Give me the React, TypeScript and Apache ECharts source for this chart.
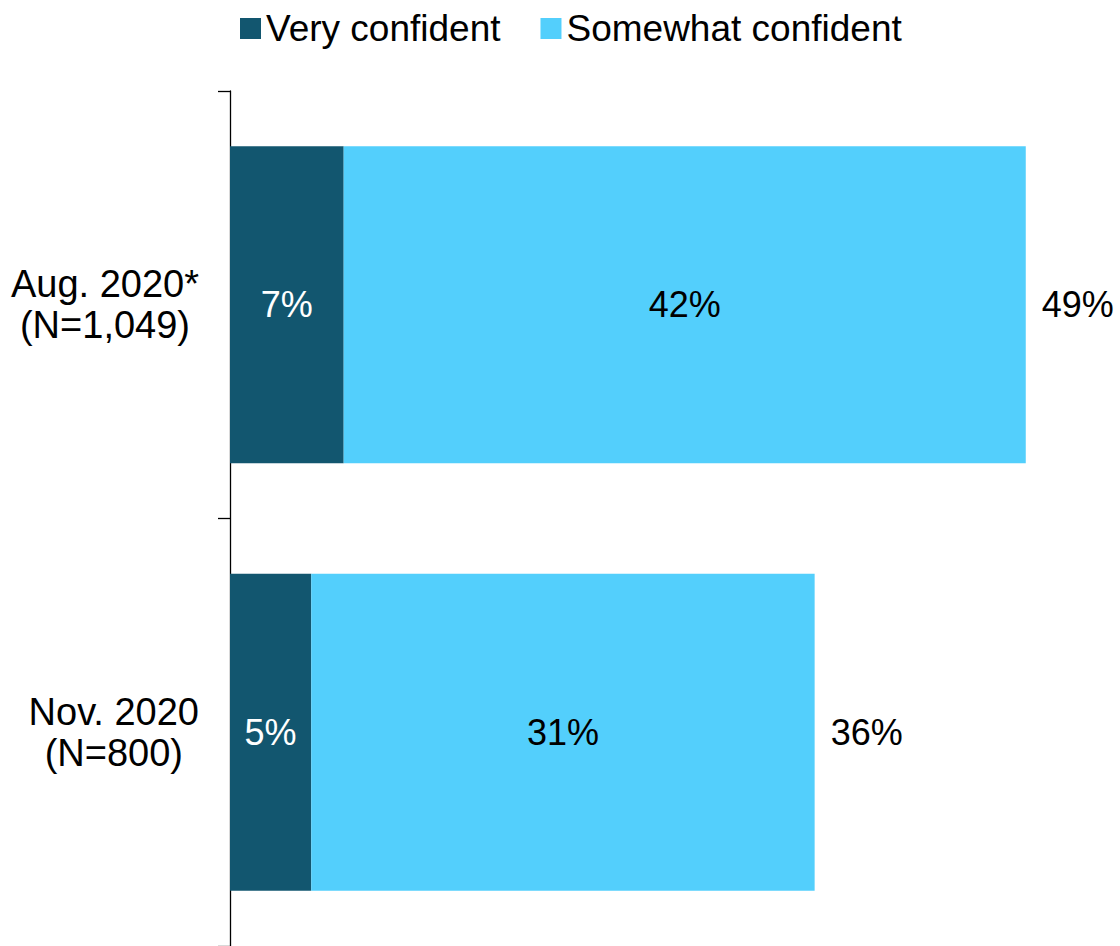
import React, { useEffect, useRef } from "react";
import * as echarts from "echarts";

const categories = ["Aug. 2020*\n(N=1,049)", "Nov. 2020\n(N=800)"];
const seriesNames = ["Very confident", "Somewhat confident"];
const veryConfident = [7, 5];
const somewhatConfident = [42, 31];
const totals = [49, 36];

const DARK = "#12566F";
const LIGHT = "#53CFFC";
const FONT = "'Liberation Sans', Arial, sans-serif";

export default function App() {
  const ref = useRef<HTMLDivElement>(null);

  useEffect(() => {
    if (!ref.current) return;
    const chart = echarts.init(ref.current, null, { renderer: "svg" });
    const labelBase = {
      show: true,
      fontSize: 36,
      fontFamily: FONT,
    };
    chart.setOption({
      animation: false,
      backgroundColor: "#ffffff",
      textStyle: { fontFamily: FONT },
      legend: {
        data: seriesNames,
        left: 235,
        top: 5,
        itemWidth: 21,
        itemHeight: 21,
        itemGap: 40,
        icon: "rect",
        textStyle: { fontSize: 37, color: "#000", fontFamily: FONT },
      },
      grid: { left: 230, top: 91, width: 812, height: 858, containLabel: false },
      xAxis: {
        type: "value",
        min: 0,
        max: 50,
        show: false,
        splitLine: { show: false },
      },
      yAxis: {
        type: "category",
        inverse: true,
        data: categories,
        axisLine: { show: true, lineStyle: { color: "#000", width: 1.3 } },
        axisTick: { show: true, length: 12, lineStyle: { color: "#000", width: 1.3 } },
        axisLabel: {
          align: "right",
          margin: 31,
          color: "#000",
          formatter: (v: string) =>
            v
              .split("\n")
              .map((s) => `{c|${s}}`)
              .join("\n"),
          rich: {
            c: {
              align: "center",
              fontSize: 38,
              lineHeight: 41,
              color: "#000",
              fontFamily: FONT,
            },
          },
        },
      },
      series: [
        {
          name: seriesNames[0],
          type: "bar",
          stack: "total",
          barWidth: 317,
          data: veryConfident,
          itemStyle: { color: DARK },
          label: {
            ...labelBase,
            position: "inside",
            color: "#ffffff",
            formatter: (p: any) => `${p.value}%`,
          },
        },
        {
          name: seriesNames[1],
          type: "bar",
          stack: "total",
          barWidth: 317,
          data: somewhatConfident,
          itemStyle: { color: LIGHT },
          label: {
            ...labelBase,
            position: "inside",
            color: "#000",
            formatter: (p: any) => `${p.value}%`,
          },
        },
        {
          name: "Total",
          type: "bar",
          stack: "total",
          barWidth: 317,
          data: totals.map(() => 0),
          itemStyle: { color: "transparent" },
          label: {
            ...labelBase,
            position: "right",
            distance: 16,
            color: "#000",
            formatter: (p: any) => `${totals[p.dataIndex]}%`,
          },
        },
      ],
    });
    return () => chart.dispose();
  }, []);

  return (
    <div
      ref={ref}
      style={{ position: "fixed", left: 0, top: 0, width: 1120, height: 946 }}
    />
  );
}
